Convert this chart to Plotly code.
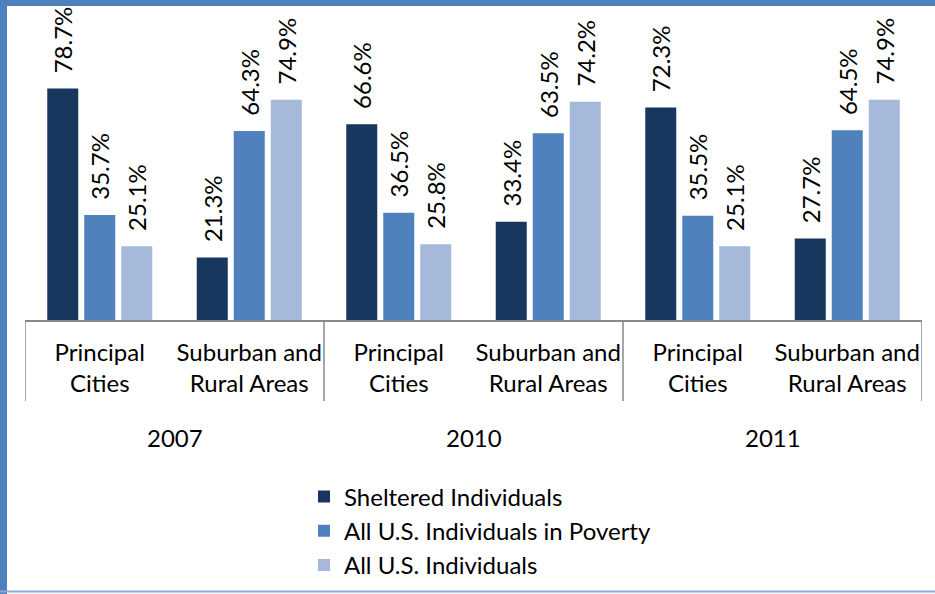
import plotly.graph_objects as go

# ---- data ----
years = ["2007", "2010", "2011"]
areas = ["Principal<br>Cities", "Suburban and<br>Rural Areas"]
series_names = ["Sheltered Individuals", "All U.S. Individuals in Poverty", "All U.S. Individuals"]
sheltered = [78.7, 21.3, 66.6, 33.4, 72.3, 27.7]
poverty = [35.7, 64.3, 36.5, 63.5, 35.5, 64.5]
all_us = [25.1, 74.9, 25.8, 74.2, 25.1, 74.9]
colors = ["#17375E", "#4F81BD", "#A7B9DA"]

W, H = 935, 594
L, R, T, B = 25, 13, 26, 274
PW, PH = W - L - R, H - T - B
FONT = "Lato"
FS = 24

def px_x(p):  # pixel -> paper x
    return (p - L) / PW

def px_y(p):  # pixel -> paper y
    return (H - B - p) / PH

positions = list(range(len(sheltered)))
ticktext = areas * len(years)

fig = go.Figure()
for name, vals, col in zip(series_names, [sheltered, poverty, all_us], colors):
    fig.add_trace(go.Bar(
        x=positions, y=vals, name=name,
        marker=dict(color=col, line=dict(width=0)),
        texttemplate="\u00a0\u00a0%{y:.1f}%",
        textposition="outside", textangle=-90,
        textfont=dict(family=FONT, size=FS, color="black"),
        constraintext="none", cliponaxis=False,
    ))

shapes = []
# group separators
for xv in [-0.5, 1.5, 3.5, 5.5]:
    shapes.append(dict(type="line", xref="x", yref="paper", x0=xv, x1=xv,
                       y0=0, y1=px_y(401), line=dict(color="#888888", width=1.5)))
# outer border (top, left, bottom)
shapes.append(dict(type="rect", xref="paper", yref="paper",
                   x0=px_x(0), x1=px_x(W), y0=px_y(0), y1=px_y(6),
                   fillcolor="#4F81BD", line=dict(width=0)))
shapes.append(dict(type="rect", xref="paper", yref="paper",
                   x0=px_x(0), x1=px_x(7), y0=px_y(0), y1=px_y(H),
                   fillcolor="#4F81BD", line=dict(width=0)))
shapes.append(dict(type="line", xref="paper", yref="paper",
                   x0=px_x(0), x1=px_x(W), y0=px_y(591.5), y1=px_y(591.5),
                   line=dict(color="#8EA9D3", width=2)))

annotations = []
for i, yr in enumerate(years):
    annotations.append(dict(x=2 * i + 0.5, y=px_y(437), xref="x", yref="paper",
                            yanchor="middle", text=yr, showarrow=False,
                            font=dict(family=FONT, size=FS, color="black")))

fig.update_layout(
    width=W, height=H,
    margin=dict(l=L, r=R, t=T, b=B, autoexpand=False),
    paper_bgcolor="white", plot_bgcolor="white",
    barmode="group", bargap=0.2575, bargroupgap=0.162,
    font=dict(family=FONT, size=FS, color="black"),
    xaxis=dict(range=[-0.5, 5.5], tickvals=positions, ticktext=ticktext,
               showline=True, linecolor="#888888", linewidth=1.5,
               showgrid=False, zeroline=False, ticks="outside", ticklen=10,
               tickcolor="rgba(0,0,0,0)", automargin=False,
               tickfont=dict(family=FONT, size=FS, color="black")),
    yaxis=dict(range=[0, 100], visible=False, showgrid=False, zeroline=False),
    showlegend=True,
    legend=dict(orientation="v", x=px_x(304), xanchor="left", y=px_y(531), yanchor="middle",
                font=dict(family=FONT, size=FS, color="black"), bgcolor="rgba(0,0,0,0)",
                tracegroupgap=0),
    shapes=shapes, annotations=annotations,
)

fig.write_html("out.html", config={"displayModeBar": False},
               post_script="document.body.style.margin='0px';")
